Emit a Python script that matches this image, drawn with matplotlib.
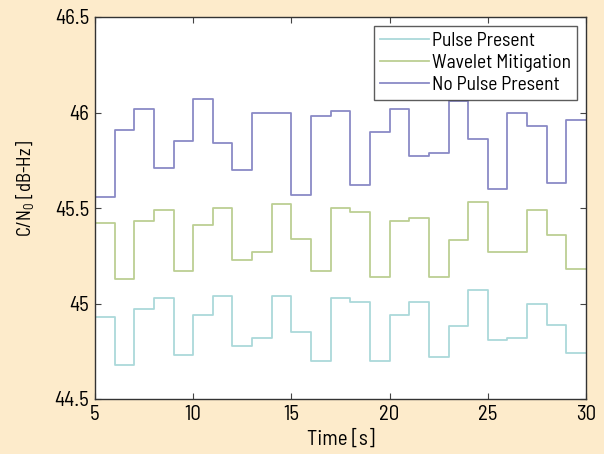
import numpy as np
import matplotlib
matplotlib.use("Agg")
import matplotlib.pyplot as plt

FONT = 'Barlow Semi Condensed'
plt.rcParams['font.family'] = [FONT, 'DejaVu Sans']
plt.rcParams['mathtext.fontset'] = 'custom'
plt.rcParams['mathtext.rm'] = FONT
plt.rcParams['mathtext.it'] = FONT

# Data: one value per 1-s interval starting at t = 5 s
t_start = 5
pulse_present = [44.93, 44.68, 44.97, 45.03, 44.73, 44.94, 45.04, 44.78, 44.82, 45.04,
                 44.85, 44.70, 45.03, 45.01, 44.70, 44.94, 45.01, 44.72, 44.88, 45.07,
                 44.81, 44.82, 45.00, 44.89, 44.74]
wavelet_mitigation = [45.42, 45.13, 45.43, 45.49, 45.17, 45.41, 45.50, 45.23, 45.27, 45.52,
                      45.34, 45.17, 45.50, 45.48, 45.14, 45.43, 45.45, 45.14, 45.33, 45.53,
                      45.27, 45.27, 45.49, 45.36, 45.18]
no_pulse_present = [45.56, 45.91, 46.02, 45.71, 45.85, 46.07, 45.84, 45.70, 46.00, 46.00,
                    45.57, 45.98, 46.01, 45.62, 45.90, 46.02, 45.77, 45.79, 46.06, 45.86,
                    45.60, 46.00, 45.93, 45.63, 45.96]
labels = ["Pulse Present", "Wavelet Mitigation", "No Pulse Present"]
colors = ["#abd9da", "#bccf93", "#8a8ac6"]
xticks = [5, 10, 15, 20, 25, 30]
yticks = [44.5, 45, 45.5, 46, 46.5]

bg = "#fdebcb"
fig = plt.figure(figsize=(6.04, 4.54), dpi=100, facecolor=bg)
ax = fig.add_axes([95/604, 55/454, 491/604, 382/454])
ax.set_facecolor("white")

for series, lab, col in zip([pulse_present, wavelet_mitigation, no_pulse_present], labels, colors):
    x = np.arange(t_start, t_start + len(series) + 1)
    y = list(series) + [series[-1]]
    ax.plot(x, y, drawstyle="steps-post", color=col, lw=1.3, label=lab)

ax.set_xlim(5, 30)
ax.set_ylim(44.5, 46.5)
ax.set_xticks(xticks)
ax.set_xticklabels([f"{v:g}" for v in xticks])
ax.set_yticks(yticks)
ax.set_yticklabels([f"{v:g}" for v in yticks])
ax.tick_params(direction="in", top=True, right=True, labelsize=15, length=4,
               color="#444444", pad=4)
for s in ax.spines.values():
    s.set_color("#333333")
    s.set_linewidth(1.0)

ax.set_xlabel("Time [s]", fontsize=15, labelpad=4)
ax.set_ylabel("C/N$_0$ [dB-Hz]", fontsize=13.5)
ax.yaxis.set_label_coords(-0.12, 0.55)

leg = ax.legend(loc="upper right", fontsize=14, frameon=True, fancybox=False,
                handlelength=2.5, handletextpad=0.2, borderpad=0.3, labelspacing=0.22,
                borderaxespad=0.45)
leg.get_frame().set_edgecolor("#333333")
leg.get_frame().set_linewidth(1.0)

fig.savefig("out.png", dpi=100, facecolor=bg)
